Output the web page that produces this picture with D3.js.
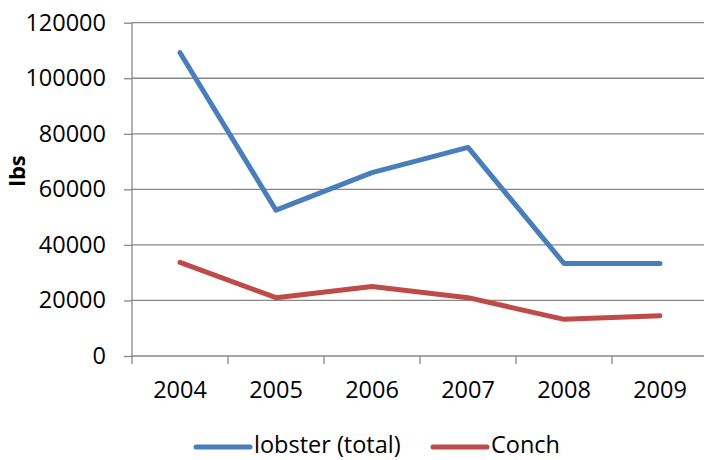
<!DOCTYPE html>
<html><head><meta charset="utf-8">
<script src="https://cdn.jsdelivr.net/npm/d3@7"></script>
<style>body{margin:0;background:#fff;} text{font-family:"Open Sans",sans-serif;}</style>
</head><body>
<svg id="c" width="704" height="460"></svg>
<script>
const years = ["2004","2005","2006","2007","2008","2009"];
const lobster = [109200, 52500, 66000, 75100, 33300, 33300];
const conch = [33700, 21000, 25000, 21000, 13200, 14500];
const yTicks = [0, 20000, 40000, 60000, 80000, 100000, 120000];
const seriesNames = ["lobster (total)", "Conch"];
const colors = ["#4a7ebb", "#be4b48"];

const svg = d3.select("#c");
const L = 132, R = 708, T = 22.7, B = 356;
const x = d3.scaleBand().domain(years).range([L, R]);
const y = d3.scaleLinear().domain([0, 120000]).range([B, T]);
const fs = 23.5;

// gridlines
svg.append("g").selectAll("line").data(yTicks.filter(d => d > 0)).join("line")
  .attr("x1", L).attr("x2", R).attr("y1", d => y(d)).attr("y2", d => y(d))
  .attr("stroke", "#878787").attr("stroke-width", 1.3);

// y axis
const ya = svg.append("g").attr("transform", `translate(${L},0)`)
  .call(d3.axisLeft(y).tickValues(yTicks).tickSize(8).tickPadding(18).tickFormat(d => String(d)));
ya.selectAll("path,line").attr("stroke", "#878787").attr("stroke-width", 1.3);
ya.select("path").attr("d", `M0,${B}V${T}`);
ya.selectAll("text").attr("font-size", fs).attr("font-family", "Open Sans").attr("fill", "#000");

// x axis
const xa = svg.append("g").attr("transform", `translate(0,${B})`)
  .call(d3.axisBottom(x).tickSize(0).tickPadding(25));
xa.selectAll("path").attr("stroke", "#878787").attr("stroke-width", 1.3).attr("d", `M${L},0H${R}`);
xa.selectAll("text").attr("font-size", fs).attr("font-family", "Open Sans").attr("fill", "#000");
const tickPos = years.map(d => x(d)).concat([R]);
svg.append("g").selectAll("line").data(tickPos).join("line")
  .attr("x1", d => d).attr("x2", d => d).attr("y1", B).attr("y2", B + 8)
  .attr("stroke", "#878787").attr("stroke-width", 1.3);

// y title
svg.append("text").attr("transform", "translate(25,171) rotate(-90)")
  .attr("text-anchor", "middle").attr("font-size", 22).attr("font-weight", "bold").text("lbs");

// lines
const line = d3.line().x((d, i) => x(years[i]) + x.bandwidth() / 2).y(d => y(d));
[lobster, conch].forEach((s, i) => {
  svg.append("path").attr("d", line(s)).attr("fill", "none").attr("stroke", colors[i])
    .attr("stroke-width", 5).attr("stroke-linejoin", "round").attr("stroke-linecap", "round");
});

// legend
const legX = [196, 433];
seriesNames.forEach((n, i) => {
  svg.append("line").attr("x1", legX[i]).attr("x2", legX[i] + 54).attr("y1", 447).attr("y2", 447)
    .attr("stroke", colors[i]).attr("stroke-width", 5).attr("stroke-linecap", "round");
  svg.append("text").attr("x", legX[i] + 58).attr("y", 453).attr("font-size", fs).text(n);
});
</script>
</body></html>
